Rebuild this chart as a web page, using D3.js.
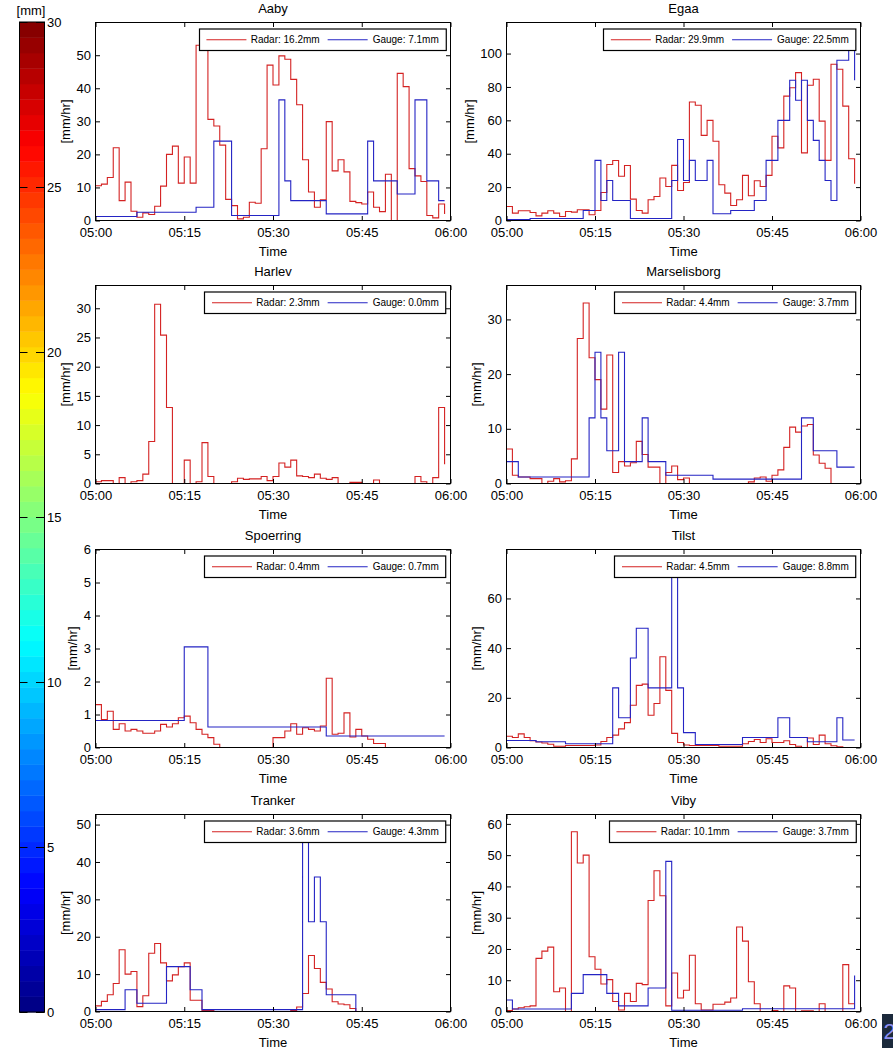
<!DOCTYPE html>
<html><head><meta charset="utf-8">
<script src="https://cdn.jsdelivr.net/npm/d3@7"></script>
<style>
body{margin:0;background:#fff;}
svg{display:block;font-family:"Liberation Sans",Arial,sans-serif;}
</style></head><body>
<svg id="chart" width="893" height="1048"></svg>
<script>
// ---------------- data ----------------
const stations = ["Aaby","Egaa","Harlev","Marselisborg","Spoerring","Tilst","Tranker","Viby"];
const radarTotals = ["16.2","29.9","2.3","4.4","0.4","4.5","3.6","10.1"];
const gaugeTotals = ["7.1","22.5","0.0","3.7","0.7","8.8","4.3","3.7"];
const yMaxes = [59.9,118.6,33.9,36.2,6,79.7,52.7,63];
const yTickSteps = [10,20,5,10,1,20,10,10];
const xTickLabels = ["05:00","05:15","05:30","05:45","06:00"];
const colorbarTicks = [0,5,10,15,20,25,30];
const colorbarMax = 30;

// radar rain rate [mm/hr], one value per minute from 05:00
const radarAaby = [10.5,11,13,22,6,11.6,2.8,1,2.3,1.8, 4.3,10.4,20,22.5,11.3,19.2,11.3,53,53,30.6,
  28.6,22.8,6.4,4.5,0.5,1,5.5,5.2,21.7,47, 41,49.8,48.8,42.7,35,18.4,8.6,4,6.3,29.9,
  15,18.4,14.7,5.8,5.4,5,8.6,4,2.7,14, 0,44.5,40.5,15.7,13.5,11.8,1.5,0.8,5,2];
const radarEgaa = [8.4,4.4,5.8,5.8,4.8,2.8,4.4,5.8,4.4,2.4, 5.4,5,6.4,6.4,3.4,6,16.8,33.5,35.9,26.5,
  32.9,12.8,6,4.4,12.4,14.4,25.5,20.4,33,18, 22.8,71,69,51,60,47.5,21.4,16.4,9,12.4,
  27,14.8,23.8,20.4,27,50.5,43.5,74.5,79.5,88.6, 40.5,81,84.6,59.5,36,93.6,90.6,68.5,37,22];
const radarHarlev = [0.3,0.5,0.5,0,1,0,0.3,0.5,1.6,7.2, 30.7,25.4,13,0,0,4,0,0.3,7,1.2,
  0,0,0,0.3,0.9,0.7,0.8,0.8,1.2,0.5, 1.2,3.5,2.8,4,1.3,1.2,1,1.6,0.9,0.7,
  1,0,0,0.2,0.2,0,0,0.6,0,0, 0,0,0,0,1.2,0.3,0,1,13,3.3];
const radarMarselisborg = [6.3,1.5,1.2,1.2,0.9,0.9,0,0.4,0.9,0.3, 0.5,4.5,26.5,33,23,19,13.6,23.5,2,4,
  3.2,3.8,7.7,5.3,3,3,0,2,3.2,0.7, 1,0,0,0,0,0,0,0,0,0,
  0,0.3,1,1.2,0.4,1.5,2.5,6.6,10.3,9.4, 10.5,10.8,5.2,3.7,2.8,0,0,0,0,0];
const radarSpoerring = [1.3,0.85,1.1,0.55,0.72,0.5,0.55,0.5,0.43,0.43, 0.5,0.7,0.62,0.72,0.9,0.95,0.75,0.55,0.4,0.3,
  0.1,0,0,0,0,0,0,0,0,0, 0.3,0.3,0.5,0.72,0.4,0.6,0.55,0.5,0.65,2.1,
  0.4,0.43,1.05,0.32,0.55,0.35,0.25,0.12,0.12,0, 0,0,0,0,0,0,0,0,0,0];
const radarTilst = [4.5,4,5.5,4,2.7,2.2,1.8,1.3,0.5,0.5, 0.8,0.8,0.8,0.8,0.8,1,2.4,4,5,7.5,
  10,17,25,25.5,13,17.7,36.5,23,5.7,2, 1,0.8,0.8,0.8,0.8,0.8,0.5,0.5,0.5,0.5,
  1.5,2.4,3.2,2,3.5,2,2,2.7,1.2,0.5, 0,3.8,1.2,5,1.5,0.7,0.3,0,0,0];
const radarTranker = [1.5,2.7,4.5,7.5,16.5,10,10.7,1.3,4.2,15.6, 18.2,13,8.2,9.8,12,13,3,3,0.3,0.3,
  0,0,0,0,0,0,0,0,0,0, 0,0,0,0.3,1.2,4.8,15,11.5,7.8,6,
  2.6,2,1.8,0.8,0];
const radarViby = [0.3,0.8,1.2,1.5,1.8,17,19.3,20.6,6.3,7.5, 0,57.5,47.5,50,17.5,13.5,8.8,10.2,3.2,0.5,
  5.8,3.2,9,8.6,35.5,45,37,1.8,12.3,4.3, 6.8,18,2.5,0.5,0.5,2.3,2.3,3,4.3,27,
  22.5,9.5,2.5,0,0,0.3,0,8.2,7.5,0, 0.2,0.2,0,2.5,0,0,0,15,2.5,2.5];

// gauge rain rate [mm/hr], one value per minute from 05:00
const gaugeAaby = [1.2,1.2,1.2,1.2,1.2,1.2,1.2,2.5,2.5,2.5, 2.5,2.5,2.5,2.5,2.5,2.5,2.5,4,4,4,
  24,24,24,1.5,1.5,1.5,1.5,1.5,1.5,1.5, 1.5,36.5,12,6,6,6,6,6,6,2,
  2,2,2,2,2,2,24,12,12,12, 12,8,8,8,36.5,36.5,12,12,6,6];
const gaugeEgaa = [0.6,0.6,0.6,0.6,1.2,1.2,1.2,1.2,1.2,1.2, 1.2,1.2,1.2,6,6,36,12,24,12,12,
  12,1.2,1.2,1.2,1.2,1.2,1.2,1.2,24,48.5, 24,36,24,24,36,4,4,4,6,6,
  6,6,12,12,36,36,60,60,84,72, 84,60,48,36,24,12,96,96,103.5,84];
const gaugeHarlev = [0,0,0,0,0,0,0,0,0,0, 0,0,0,0,0,0,0,0,0,0, 0,0,0,0,0,0,0,0,0,0,
  0,0,0,0,0,0,0,0,0,0, 0,0,0,0,0,0,0,0,0,0, 0,0,0,0,0,0,0,0,0,0];
const gaugeMarselisborg = [4,4,1.2,1.2,1.2,1.2,1.2,1.2,1.2,1.2, 1.2,1.2,1.2,1.2,12,24,12,6,6,24,
  4,4,4,12,4,4,4,1.5,1.5,1.5, 1.5,1.5,1.5,1.5,1.5,0.8,0.8,0.8,0.8,0.8,
  0.8,0.8,0.8,0.8,0.8,0.8,0.8,0.8,0.8,0.8, 12,12,6,6,6,6,3,3,3,3];
const gaugeSpoerring = [0.82,0.82,0.82,0.82,0.82,0.82,0.82,0.82,0.82,0.82, 0.82,0.82,0.82,0.82,0.82,3.05,3.05,3.05,3.05,0.62,
  0.62,0.62,0.62,0.62,0.62,0.62,0.62,0.62,0.62,0.62, 0.62,0.62,0.62,0.62,0.62,0.62,0.62,0.62,0.62,0.35,
  0.35,0.35,0.35,0.35,0.35,0.35,0.35,0.35,0.35,0.35, 0.35,0.35,0.35,0.35,0.35,0.35,0.35,0.35,0.35,0.35];
const gaugeTilst = [2.8,2.8,2.8,2.8,2.8,2.3,2.3,2.3,2.3,2.3, 1.5,1.5,1.5,1.5,1.5,1.5,1.5,1.5,24,12,
  12,36,48,48,24,24,24,24,72,24, 6,6,1.2,1.2,1.2,1.2,1.2,1.2,1.2,1.2,
  4,4,4,4,4,4,12,12,4,4, 4,2.3,2.3,2.3,2.3,2.3,12,3,3,3];
const gaugeTranker = [0.5,0.5,0.5,0.5,0.5,5.8,5.8,2.2,2.2,2.2, 2.2,2.2,12,12,12,12,5.8,5.8,0.5,0.5,
  0.5,0.5,0.5,0.5,0.5,0.5,0.5,0.5,0.5,0.5, 0.5,0.5,0.5,0.5,0.5,48,24,36,24,4.5,
  4.5,4.5,4.5,4.5,0];
const gaugeViby = [3.7,0.8,0.8,0.8,0.8,0.8,0.8,0.8,0.8,0.8, 0.8,5.8,5.8,11.8,11.8,11.8,11.8,5.8,5.8,1.8,
  1.8,1.8,1.8,1.8,7.5,7.5,7.5,48,0.4,0.4, 0.4,0.4,0.4,0.4,0.4,0.4,0.4,0.4,0.4,0.4,
  0.9,0.9,0.9,0.9,0.9,0.9,0.9,0.9,0.9,0.9, 0.9,0.9,0.9,0.9,0.9,0.9,0.9,0.9,0.9,11.5];

const radarSeries = [radarAaby,radarEgaa,radarHarlev,radarMarselisborg,radarSpoerring,radarTilst,radarTranker,radarViby];
const gaugeSeries = [gaugeAaby,gaugeEgaa,gaugeHarlev,gaugeMarselisborg,gaugeSpoerring,gaugeTilst,gaugeTranker,gaugeViby];

// ---------------- layout ----------------
const svg = d3.select("#chart");
const FONT = "13px";
const RED = "#d42222", BLUE = "#2424c4";
const colX = [[95.5,450.5],[506.5,860.5]];
const rowY = [[22.5,220.5],[285.5,483.5],[549.5,747.5],[814.5,1011.5]];
const parseHM = d3.utcParse("%H:%M");
const xTicks = xTickLabels.map(parseHM);
const tStart = xTicks[0], tEnd = xTicks[xTicks.length-1];
const fmt = d3.utcFormat("%H:%M");

// measuring helper
const meas = svg.append("text").attr("font-size","10px").attr("visibility","hidden");
function textW(s, size){ meas.attr("font-size",size).text(s); return meas.node().getComputedTextLength(); }

stations.forEach((name,i)=>{
  const col=i%2,row=Math.floor(i/2);
  const [x0,x1]=colX[col],[y0,y1]=rowY[row];
  const x=d3.scaleUtc().domain([tStart,tEnd]).range([x0,x1]);
  const y=d3.scaleLinear().domain([0,yMaxes[i]]).range([y1,y0]);
  const yTicks=d3.range(0,yMaxes[i]+1e-9,yTickSteps[i]);
  const g=svg.append("g");
  const clipId="clip"+i;
  g.append("clipPath").attr("id",clipId).append("rect")
    .attr("x",x0).attr("y",y0).attr("width",x1-x0).attr("height",y1-y0);

  const line=d3.line()
    .x((d,j)=>x(d3.utcMinute.offset(tStart,j)))
    .y(d=>y(d))
    .curve(d3.curveStepAfter);
  const plot=g.append("g").attr("clip-path",`url(#${clipId})`);
  plot.append("path").attr("d",line(radarSeries[i])).attr("fill","none")
    .attr("stroke",RED).attr("stroke-width",1.1);
  plot.append("path").attr("d",line(gaugeSeries[i])).attr("fill","none")
    .attr("stroke",BLUE).attr("stroke-width",1.1);

  // axes
  const styleAxis=sel=>{sel.select(".domain").remove();
    sel.attr("font-family",null).attr("font-size",FONT);
    sel.selectAll("line").attr("stroke","#000");
    sel.selectAll("text").attr("fill","#000");};
  g.append("g").attr("transform",`translate(0,${y1})`)
    .call(d3.axisBottom(x).tickValues(xTicks).tickFormat(fmt).tickSizeInner(-4.5).tickSizeOuter(0).tickPadding(7))
    .call(styleAxis);
  g.append("g").attr("transform",`translate(0,${y0})`)
    .call(d3.axisTop(x).tickValues(xTicks).tickFormat("").tickSizeInner(-4.5).tickSizeOuter(0))
    .call(styleAxis);
  const la=g.append("g").attr("transform",`translate(${x0},0)`)
    .call(d3.axisLeft(y).tickValues(yTicks).tickFormat(d3.format("d")).tickSizeInner(-4.5).tickSizeOuter(0).tickPadding(4.5))
    .call(styleAxis);
  g.append("g").attr("transform",`translate(${x1},0)`)
    .call(d3.axisRight(y).tickValues(yTicks).tickFormat("").tickSizeInner(-4.5).tickSizeOuter(0))
    .call(styleAxis);
  let maxW=0; la.selectAll("text").each(function(){maxW=Math.max(maxW,this.getComputedTextLength());});

  g.append("rect").attr("x",x0).attr("y",y0).attr("width",x1-x0).attr("height",y1-y0)
    .attr("fill","none").attr("stroke","#000").attr("stroke-width",1);

  // labels
  g.append("text").attr("x",(x0+x1)/2).attr("y",y0-9.3).attr("text-anchor","middle")
    .attr("font-size",FONT).text(name);
  g.append("text").attr("x",(x0+x1)/2).attr("y",y1+35).attr("text-anchor","middle")
    .attr("font-size",FONT).text("Time");
  const lx=x0-4.5-maxW-11;
  g.append("text").attr("transform",`translate(${lx},${(y0+y1)/2}) rotate(-90)`)
    .attr("text-anchor","middle").attr("dominant-baseline","central")
    .attr("font-size",FONT).text("[mm/hr]");

  // legend
  const t1=`Radar: ${radarTotals[i]}mm`, t2=`Gauge: ${gaugeTotals[i]}mm`;
  const w1=textW(t1,"10px"), w2=textW(t2,"10px");
  const lw=7.7+40+4.3+w1+8+40+5+w2+6.7, lh=21.5;
  const lr=x1-5, lt=y0+6.5, ll=lr-lw, lc=lt+lh/2;
  const lg=g.append("g");
  lg.append("rect").attr("x",Math.round(ll)+0.5).attr("y",lt).attr("width",lw).attr("height",lh)
    .attr("fill","#fff").attr("stroke","#000").attr("stroke-width",1.2);
  let cx=ll+7.7;
  lg.append("line").attr("x1",cx).attr("x2",cx+40).attr("y1",lc).attr("y2",lc).attr("stroke",RED).attr("stroke-width",1.1);
  cx+=44.3;
  lg.append("text").attr("x",cx).attr("y",lc+3.6).attr("font-size","10px").text(t1);
  cx+=w1+8;
  lg.append("line").attr("x1",cx).attr("x2",cx+40).attr("y1",lc).attr("y2",lc).attr("stroke",BLUE).attr("stroke-width",1.1);
  cx+=45;
  lg.append("text").attr("x",cx).attr("y",lc+3.6).attr("font-size","10px").text(t2);
});

// ---------------- colorbar ----------------
function jet(t){
  const c=v=>Math.max(0,Math.min(1,v));
  const r=c(1.5-Math.abs(4*t-3)), g=c(1.5-Math.abs(4*t-2)), b=c(1.5-Math.abs(4*t-1));
  return d3.rgb(r*255,g*255,b*255).toString();
}
const cbX0=19.5, cbX1=44.5;
const yC=d3.scaleLinear().domain([0,colorbarMax]).range([1012,22]);
const nLev=64;
const cb=svg.append("g");
d3.range(nLev).forEach(k=>{
  const v0=k*colorbarMax/nLev, v1=(k+1)*colorbarMax/nLev;
  cb.append("rect").attr("x",cbX0).attr("width",cbX1-cbX0)
    .attr("y",yC(v1)).attr("height",yC(v0)-yC(v1)+0.4)
    .attr("fill",jet((k+0.5)/nLev));
});
cb.append("rect").attr("x",cbX0).attr("y",yC(colorbarMax)).attr("width",cbX1-cbX0)
  .attr("height",yC(0)-yC(colorbarMax)).attr("fill","none").attr("stroke","#000").attr("stroke-width",1);
colorbarTicks.forEach(v=>{
  const yy=Math.round(yC(v))+0.5;
  cb.append("line").attr("x1",cbX0).attr("x2",cbX0+8).attr("y1",yy).attr("y2",yy).attr("stroke","#000");
  cb.append("line").attr("x1",cbX1-8.5).attr("x2",cbX1).attr("y1",yy).attr("y2",yy).attr("stroke","#000");
  cb.append("text").attr("x",47).attr("y",yC(v)+4.6).attr("font-size",FONT).text(v);
});
cb.append("text").attr("x",31).attr("y",14.5).attr("text-anchor","middle").attr("font-size",FONT).text("[mm]");

// corner fragment
svg.append("rect").attr("x",882).attr("y",1014).attr("width",11).attr("height",34).attr("fill","#1c2a3c");
svg.append("text").attr("x",883.5).attr("y",1039).attr("font-size","22px").attr("fill","#8d8ff2").text("2");
</script>
</body></html>
